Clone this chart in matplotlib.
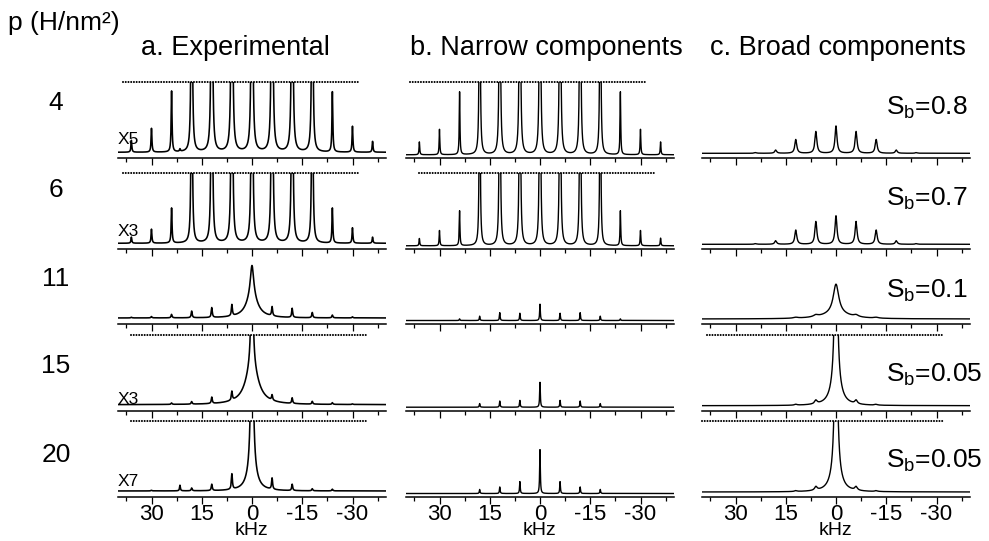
import numpy as np
import matplotlib.pyplot as plt

plt.rcParams['font.family'] = ['Liberation Sans', 'DejaVu Sans']
plt.rcParams['mathtext.fontset'] = 'custom'
plt.rcParams['mathtext.rm'] = 'Liberation Sans'
plt.rcParams['mathtext.it'] = 'Liberation Sans:italic'

# H loading of each row (H/nm^2)
pressures = ['4', '6', '11', '15', '20']
titles = ['a. Experimental', 'b. Narrow components', 'c. Broad components']
gains = ['X5', 'X3', '', 'X3', 'X7']
s_b = ['0.8', '0.7', '0.1', '0.05', '0.05']

# spinning sidebands (kHz), centre band kept apart
offsets = [36, 30, 24, 18, 12, 6, -6, -12, -18, -24, -30, -36]

# sideband heights, 1 = top of panel (above 1 runs off the top)
exp_sb = [
    [0.17, 0.34, 0.87, 6, 8, 9, 9, 8, 6, 0.86, 0.37, 0.155],
    [0.087, 0.2, 0.5, 5, 7, 8, 8, 7, 5, 0.5, 0.22, 0.087],
    [0.01, 0.02, 0.05, 0.095, 0.14, 0.16, 0.13, 0.13, 0.075, 0.04, 0.015, 0.0],
    [0.0, 0.0, 0.02, 0.037, 0.09, 0.125, 0.075, 0.08, 0.04, 0.025, 0.01, 0.0],
    [0.0, 0.01, 0.0, 0.04, 0.09, 0.22, 0.16, 0.09, 0.03, 0.025, 0.0, 0.0],
]
exp_sb_width = [0.15, 0.15, 0.18, 0.18, 0.18]
exp_center = [(9, 0.15), (8, 0.15), (0.45, 0.6), (2.0, 0.3), (3.0, 0.35)]
exp_center_broad = [(0, 1), (0, 1), (0.3, 2.0), (0.55, 2.2), (0.3, 1.5)]
exp_extra = [0.035, 0, 0, 0, 0.08]   # weak line at 21.5 kHz

nar_sb = [
    [0.177, 0.35, 0.865, 6, 8, 9, 9, 8, 6, 0.865, 0.35, 0.177],
    [0.10, 0.21, 0.48, 5, 7, 8, 8, 7, 5, 0.48, 0.21, 0.105],
    [0, 0, 0.023, 0.06, 0.108, 0.1, 0.1, 0.108, 0.06, 0.023, 0, 0],
    [0, 0, 0, 0.05, 0.085, 0.094, 0.094, 0.085, 0.05, 0, 0, 0],
    [0, 0, 0, 0.056, 0.09, 0.164, 0.164, 0.09, 0.056, 0, 0, 0],
]
nar_width = 0.12
nar_center = [9, 8, 0.225, 0.343, 0.605]

brd_sb = [
    [0, 0, 0.01, 0.045, 0.194, 0.306, 0.306, 0.194, 0.045, 0.01, 0, 0],
    [0, 0, 0.01, 0.05, 0.2, 0.32, 0.32, 0.2, 0.05, 0.01, 0, 0],
    [0, 0, 0, 0, 0.012, 0.025, 0.025, 0.012, 0, 0, 0, 0],
    [0, 0, 0, 0, 0.012, 0.05, 0.05, 0.012, 0, 0, 0, 0],
    [0, 0, 0, 0, 0.012, 0.05, 0.05, 0.012, 0, 0, 0, 0],
]
brd_sb_width = [0.35, 0.35, 0.8, 0.45, 0.45]
brd_center = [(0.383, 0.35), (0.40, 0.35), (0.42, 1.0), (3.0, 0.4), (3.0, 0.4)]
brd_center_broad = [(0, 1), (0, 1), (0.07, 5.0), (0.3, 1.6), (0.3, 1.5)]

# dotted lines marking truncated peaks: (column, row): (from, to) kHz
cut_marks = {
    (0, 0): (38.5, -32), (0, 1): (38.5, -32), (0, 3): (36, -34.5), (0, 4): (36, -34.5),
    (1, 0): (38.8, -31.8), (1, 1): (36.2, -34.2),
    (2, 3): (38.5, -32.3), (2, 4): (40, -32),
}

x = np.linspace(-42, 42, 8401)


def lorentz(x0, h, g):
    return h * g ** 2 / ((x - x0) ** 2 + g ** 2)


def spectrum(sb, width, center, broad, extra=0.0):
    y = lorentz(0, *center) + lorentz(0, *broad) + lorentz(21.5, extra, 0.15)
    for pos, h in zip(offsets, sb):
        y += lorentz(pos, h, width)
    return y


W, H = 989, 541
fig = plt.figure(figsize=(W / 100, H / 100), dpi=100)


def fx(px):
    return px / W


def fy(py):
    return 1 - py / H


col_left = [118, 406, 702]
col_gap = [6, 3.5, 5]
row_axis = [158.3, 249.3, 324, 410.7, 497]
ax_w, ax_h = 268, 76

for c in range(3):
    for r in range(5):
        ax = fig.add_axes([fx(col_left[c]), fy(row_axis[r]), ax_w / W, ax_h / H])
        if c == 0:
            y = spectrum(exp_sb[r], exp_sb_width[r], exp_center[r], exp_center_broad[r], exp_extra[r])
            lw = 1.15
        elif c == 1:
            y = spectrum(nar_sb[r], nar_width, (nar_center[r], nar_width), (0, 1))
            lw = 1.0
        else:
            y = spectrum(brd_sb[r], brd_sb_width[r], brd_center[r], brd_center_broad[r])
            lw = 1.0
        ax.plot(x, y, color='black', lw=lw)
        ax.set_xlim(40, -40)
        ax.set_ylim(-col_gap[c] / (ax_h - col_gap[c]), 1.0)
        ax.set_xticks([30, 15, 0, -15, -30])
        ax.set_xticks([37.5, 22.5, 7.5, -7.5, -22.5, -37.5], minor=True)
        ax.set_yticks([])
        ax.patch.set_visible(False)
        for s in ['left', 'right', 'top']:
            ax.spines[s].set_visible(False)
        ax.spines['bottom'].set_linewidth(1.1)
        ax.tick_params(axis='x', which='major', length=4.8, width=0.9, direction='out',
                       labelsize=16, pad=0.5)
        ax.tick_params(axis='x', which='minor', length=2.6, width=0.9, direction='out')
        if r < 4:
            ax.tick_params(axis='x', labelbottom=False)
        else:
            ax.set_xticklabels(['30', '15', '0', '-15', '-30'])
            ax.set_xlabel('kHz', fontsize=14, labelpad=-2.5)
        if (c, r) in cut_marks:
            x0, x1 = cut_marks[(c, r)]
            ax.plot([x0, x1], [1, 1], color='black', lw=1.5, linestyle=(0, (0.01, 1.3)),
                    dash_capstyle='round', clip_on=False)

# labels
fig.text(fx(8), fy(23), 'p (H/nm²)', fontsize=19, ha='left', va='center')
title_left = [141, 410, 710]
for c in range(3):
    fig.text(fx(title_left[c]), fy(48), titles[c], fontsize=19.5, ha='left', va='center')

row_label_y = [103, 190, 279, 366, 455]
for r in range(5):
    fig.text(fx(56), fy(row_label_y[r]), pressures[r], fontsize=19, ha='center', va='center')

gain_y = [140, 231, 0, 400, 481]
for r in range(5):
    if gains[r]:
        fig.text(fx(118), fy(gain_y[r]), gains[r], fontsize=12.5, ha='left', va='center')

sb_base = [115, 206, 298, 382, 468]
for r in range(5):
    fig.text(fx(886), fy(sb_base[r]), r'S$_{\rm b}$=' + s_b[r], fontsize=19,
             ha='left', va='baseline')

fig.savefig('out.png', dpi=100)
